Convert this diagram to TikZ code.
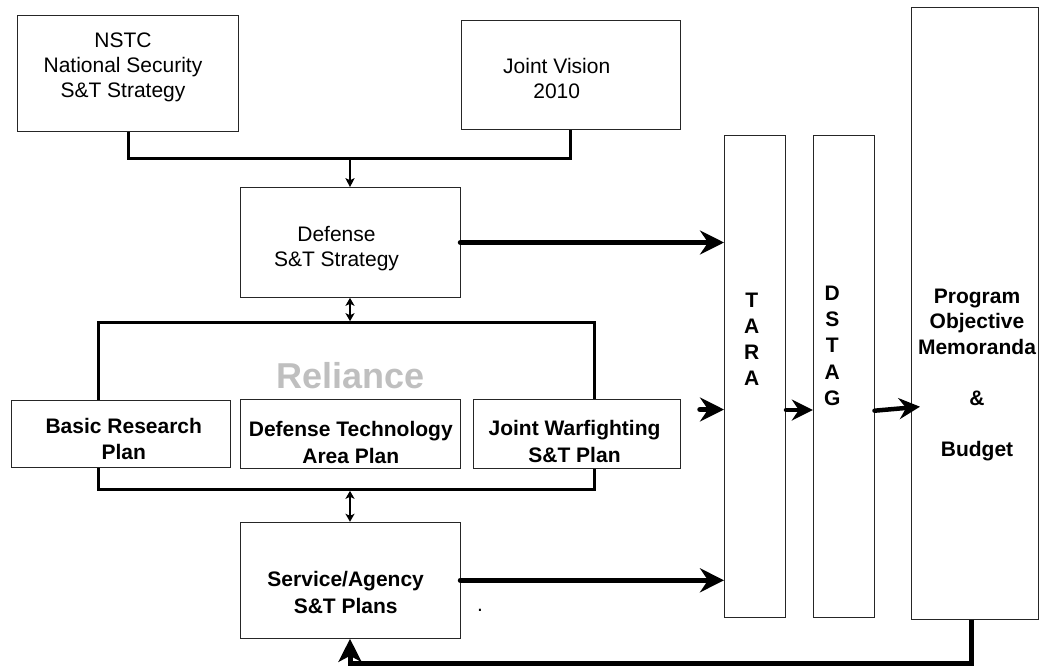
\documentclass[tikz,border=0pt]{standalone}
\usepackage{fontspec}
\setmainfont{Liberation Sans}
\usetikzlibrary{arrows.meta}
\begin{document}
\begin{tikzpicture}[x=1pt,y=-1pt,
  box/.style={draw=black!85, line width=1pt, fill=white, inner sep=0pt, rectangle},
  frame/.style={draw=black, line width=3pt, inner sep=0pt, rectangle},
  reg/.style={font=\fontsize{21}{24.7}\selectfont, align=center, inner sep=0pt},
  bld/.style={font=\fontsize{21}{26.5}\selectfont\bfseries, align=center, inner sep=0pt},
  conn/.style={draw=black, line width=3pt},
  thinarrow/.style={draw=black, line width=2pt, -{Stealth[length=9pt,width=9pt,inset=2pt]}},
  dblarrow/.style={draw=black, line width=2pt, {Stealth[length=8pt,width=9pt,inset=2pt]}-{Stealth[length=8pt,width=9pt,inset=2pt]}},
  bigarrow/.style={draw=black, line width=5.5pt, line cap=round, -{Stealth[length=24pt,width=24pt,inset=8pt]}},
  midarrow/.style={draw=black, line width=4.5pt, line cap=round, -{Stealth[length=21pt,width=21pt,inset=7pt]}},
  fbarrow/.style={draw=black, line width=5pt, -{Stealth[length=23pt,width=23pt,inset=6pt]}}
]
\useasboundingbox (0,0) rectangle (1042,667);

% top boxes
\node[box, minimum width=221pt, minimum height=116.7pt] (nstc) at (128.2,73.35) {};
\node[reg] (nstcT) at (123,67.5) {NSTC\\National Security\\S\&T Strategy};
\node[box, minimum width=218.3pt, minimum height=109.3pt] (jv) at (570.85,74.65) {};
\node[reg] (jvT) at (556.7,78.3) {Joint Vision\\2010};

\node[box, minimum width=220pt, minimum height=109.6pt] (def) at (350,242.5) {};
\node[reg] (defT) at (336.5,248.8) {Defense\\S\&T Strategy};

% Reliance frame
\node[frame, minimum width=496pt, minimum height=166.6pt] (rel) at (346.3,406) {};
\node[font=\fontsize{36}{40}\selectfont\bfseries, text=black!25, inner sep=0pt] (relT) at (350.5,375.7) {Reliance};

\node[box, minimum width=219pt, minimum height=66.6pt] (brp) at (120.5,434) {};
\node[bld] (brpT) at (123.8,439) {Basic Research\\Plan};
\node[box, minimum width=220pt, minimum height=69.3pt] (dtap) at (350,433.65) {};
\node[bld] (dtapT) at (350.8,442.3) {Defense Technology\\Area Plan};
\node[box, minimum width=206.7pt, minimum height=69.3pt] (jw) at (576.65,433.65) {};
\node[bld] (jwT) at (574.5,441.5) {Joint Warfighting\\S\&T Plan};

\node[box, minimum width=220pt, minimum height=116pt] (svc) at (350,580.3) {};
\node[bld] (svcT) at (345.7,592.3) {Service/Agency\\S\&T Plans};
\node[font=\fontsize{21}{24}\selectfont, inner sep=0pt] (dot) at (480,610) {.};

% right columns
\node[box, minimum width=61pt, minimum height=482.7pt] (tara) at (755,376.35) {};
\node[bld, font=\fontsize{21}{26}\selectfont\bfseries] (taraT) at (751.7,339) {T\\A\\R\\A};
\node[box, minimum width=60.7pt, minimum height=482.7pt] (dstag) at (843.65,376.35) {};
\node[bld, font=\fontsize{21}{26.25}\selectfont\bfseries] (dstagT) at (832.3,345.8) {D\\S\\T\\A\\G};
\node[box, minimum width=126.6pt, minimum height=612pt] (pom) at (975,313.3) {};
\node[bld, font=\fontsize{21}{25.5}\selectfont\bfseries] (pomT) at (977,374.7) {Program\\Objective\\Memoranda\\\mbox{}\\\&\\\mbox{}\\Budget};

% connectors
\coordinate (j) at (350,158);
\draw[conn] (nstc.south) |- (j) -| (jv.south);
\draw[thinarrow] (j) -- (def.north);
\draw[dblarrow] (def.south) -- (def.south |- rel.north);
\draw[dblarrow] (svc.north |- rel.south) -- (svc.north);

\draw[bigarrow] (def.east) -- (def.east -| tara.west);
\coordinate (jwa) at (700,409.5);
\draw[bigarrow] (jwa) -- (jwa -| tara.west);
\draw[bigarrow] (svc.east) -- (svc.east -| tara.west);

\coordinate (m) at (0,410);
\draw[midarrow] (tara.east |- m) -- (dstag.west |- m);
\coordinate (dsy) at (0,410.7);
\coordinate (pin) at (920,406.7);
\draw[midarrow] (dstag.east |- dsy) -- (pin);

\coordinate (fb) at (0,663.3);
\draw[fbarrow] ([xshift=-3.3pt]pom.south) |- (svc.south |- fb) -- (svc.south);
\end{tikzpicture}
\end{document}
